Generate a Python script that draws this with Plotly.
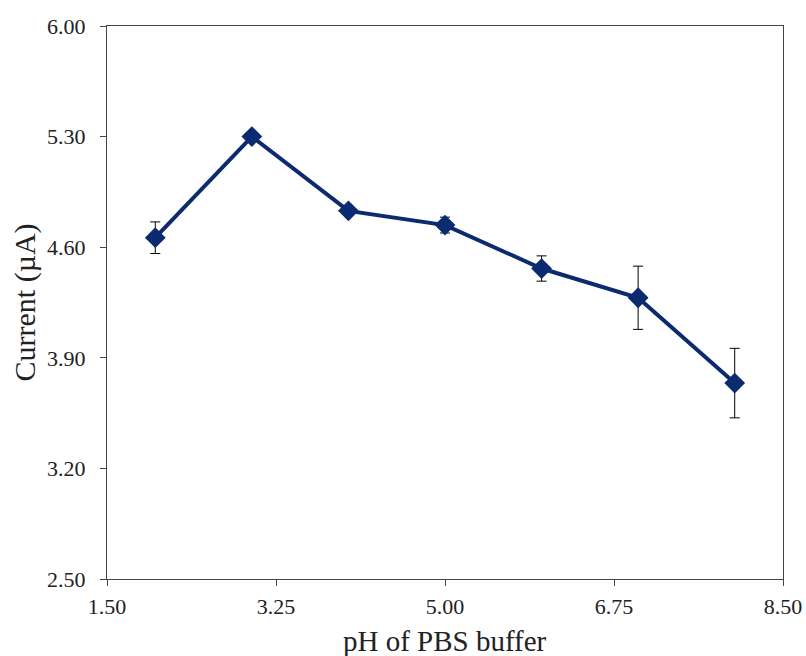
import plotly.graph_objects as go

ph = [2, 3, 4, 5, 6, 7, 8]
current = [4.66, 5.30, 4.83, 4.74, 4.465, 4.28, 3.74]
err = [0.10, 0.02, 0.02, 0.05, 0.08, 0.20, 0.22]
x_ticks = [1.50, 3.25, 5.00, 6.75, 8.50]
y_ticks = [2.50, 3.20, 3.90, 4.60, 5.30, 6.00]

navy = "#0b2a6f"
font = "Liberation Serif, Times New Roman, serif"

fig = go.Figure()
fig.add_trace(go.Scatter(
    x=ph, y=current, mode="lines+markers",
    line=dict(color=navy, width=4),
    marker=dict(symbol="diamond", size=16, color=navy),
    error_y=dict(type="data", array=err, visible=True, color="black", thickness=1, width=5),
    showlegend=False,
))

axis_common = dict(
    showgrid=False, zeroline=False, showline=True, linecolor="#444", linewidth=1.2,
    mirror=True, ticks="outside", ticklen=6, tickcolor="#444",
    tickfont=dict(family=font, size=22, color="#222"), automargin=False,
)
fig.update_xaxes(range=[1.5, 8.5], tickvals=x_ticks, ticktext=[f"{v:.2f}" for v in x_ticks],
                 ticklabelstandoff=1, **axis_common)
fig.update_yaxes(range=[2.5, 6.0], tickvals=y_ticks, ticktext=[f"{v:.2f}" for v in y_ticks],
                 ticklabelstandoff=10, **axis_common)

W, H = 806, 656
L, R, T, B = 107, 23, 26, 77
pw, ph_ = W - L - R, H - T - B
fig.add_annotation(text="pH of PBS buffer", xref="paper", yref="paper",
                   x=0.5, y=(H - B - 641) / ph_, xanchor="center", yanchor="middle",
                   showarrow=False, font=dict(family=font, size=29, color="#222"))
fig.add_annotation(text="Current (µA)", xref="paper", yref="paper",
                   x=(24 - L) / pw, y=0.5, xanchor="center", yanchor="middle", textangle=-90,
                   showarrow=False, font=dict(family=font, size=30, color="#222"))
fig.update_layout(
    width=W, height=H, margin=dict(l=L, r=R, t=T, b=B),
    paper_bgcolor="white", plot_bgcolor="white",
)
fig.write_html("out.html")
